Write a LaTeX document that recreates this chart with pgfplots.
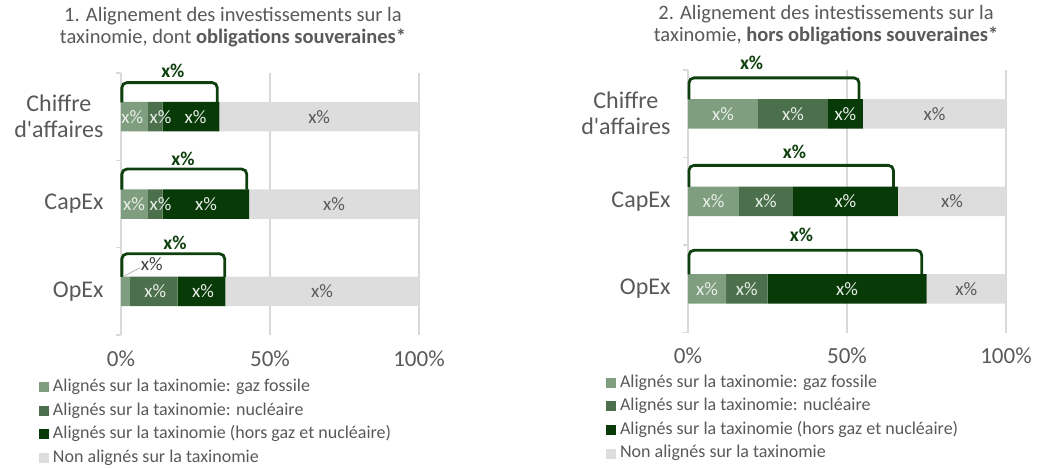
\documentclass[border=0pt]{standalone}
\usepackage{pgfplots}
\pgfplotsset{compat=1.18}
\usepackage{fontspec}
\setmainfont{Carlito}
\definecolor{gaz}{RGB}{127,158,127}
\definecolor{nuc}{RGB}{76,112,76}
\definecolor{verd}{RGB}{8,58,8}
\definecolor{nonal}{RGB}{221,221,221}
\definecolor{brk}{RGB}{14,64,14}
\definecolor{txt}{RGB}{89,89,89}
\definecolor{grd}{RGB}{217,217,217}
\definecolor{lbl}{RGB}{232,238,232}
\pgfplotsset{
  base/.style={scale only axis, xmin=0, xmax=100, ymin=0, ymax=3, clip=false},
  mainax/.style={base,
    xbar stacked, bar width=29.5bp,
    axis x line*=bottom, axis y line*=left,
    x axis line style={draw=none},
    y axis line style={draw=grd, line width=1.2bp},
    xtick={0,50,100}, xticklabels={0\%,50\%,100\%},
    xmajorgrids, grid style={draw=grd, line width=1.2bp},
    xticklabel style={font=\fontsize{23bp}{26bp}\selectfont, text=txt, yshift=-12bp},
    ytick={0.5,1.5,2.5}, yticklabels={OpEx,CapEx,{Chiffre\\d\textquotesingle affaires}},
    yticklabel style={font=\fontsize{24bp}{26bp}\selectfont, text=txt, align=center, xshift=-14bp},
    tick align=outside, major tick length=0pt,
    extra y ticks={0,1,2,3}, extra y tick labels={},
    extra y tick style={major tick length=5bp, tick style={draw=grd, line width=1.2bp}},
    legend image code/.code={\fill[##1, draw=none] (0bp,-5bp) rectangle (10bp,5bp);},
    legend cell align=left,
    legend style={at={(0,0)}, anchor=north west, xshift=-82bp, yshift=#1,
      draw=none, fill=none, inner sep=0pt, outer sep=0pt,
      font=\fontsize{18bp}{20bp}\selectfont, text=txt, row sep=5.1bp,
      nodes={inner sep=1bp, text height=12.5bp, text depth=4bp},
      /tikz/every odd column/.append style={column sep=3bp}},
  },
  lab/.style={only marks, mark=*, mark size=0.01pt, mark options={draw=none, fill=none},
    point meta=explicit symbolic, nodes near coords,
    every node near coord/.style={anchor=center, font=\fontsize{19bp}{20bp}\selectfont, text=#1}},
  blab/.style={only marks, mark=*, mark size=0.01pt, mark options={draw=none, fill=none},
    point meta=explicit symbolic, nodes near coords,
    every node near coord/.style={anchor=center, font=\fontsize{19.5bp}{20bp}\selectfont\bfseries, text=brk}},
  brack/.style={brk, line width=2.8bp, rounded corners=5bp},
}
\begin{document}
\begin{tikzpicture}
\useasboundingbox (0,0) rectangle (1047bp,-468bp);
% titles
\node[align=center, text=txt, font=\fontsize{20.5bp}{22bp}\selectfont] at (233bp,-27bp)
  {1. Alignement des investissements sur la\\taxinomie, dont \textbf{obligations souveraines*}};
\node[align=center, text=txt, font=\fontsize{20.5bp}{22bp}\selectfont] at (826bp,-25bp)
  {2. Alignement des intestissements sur la\\taxinomie, \textbf{hors obligations souveraines*}};

% ---------------- chart 1
\begin{axis}[mainax=-43bp, at={(121bp,-335bp)}, anchor=south west, width=298bp, height=262bp]
\addplot[fill=gaz, draw=none] coordinates {(3,0.5) (9,1.5) (9,2.5)};
\addlegendentry{Alignés sur la taxinomie: gaz fossile}
\addplot[fill=nuc, draw=none] coordinates {(16,0.5) (5,1.5) (5,2.5)};
\addlegendentry{Alignés sur la taxinomie: nucléaire}
\addplot[fill=verd, draw=none] coordinates {(16,0.5) (29,1.5) (19,2.5)};
\addlegendentry{Alignés sur la taxinomie (hors gaz et nucléaire)}
\addplot[fill=nonal, draw=none] coordinates {(65,0.5) (57,1.5) (67,2.5)};
\addlegendentry{Non alignés sur la taxinomie}
\end{axis}
\begin{axis}[base, hide axis, at={(121bp,-335bp)}, anchor=south west, width=298bp, height=262bp]
\addplot[brack] coordinates {(0.3,2.665) (0.3,2.89) (32.3,2.89) (32.3,2.665)};
\addplot[brack] coordinates {(0.3,1.665) (0.3,1.9) (42.2,1.9) (42.2,1.665)};
\addplot[brack] coordinates {(0.3,0.665) (0.3,0.93) (34.8,0.93) (34.8,0.665)};
\addplot[blab] coordinates {(17.4,3.02)[x\%] (20.8,2.02)[x\%] (18.1,1.06)[x\%]};
\addplot[lab=lbl] coordinates {(3.8,2.5)[x\%] (13.3,2.5)[x\%] (25,2.5)[x\%]
  (4.4,1.5)[x\%] (13.3,1.5)[x\%] (28.5,1.5)[x\%] (11.5,0.5)[x\%] (27.5,0.5)[x\%]};
\addplot[lab=txt] coordinates {(66.5,2.5)[x\%] (71.5,1.5)[x\%] (67.5,0.5)[x\%]};
\addplot[gray!60, line width=0.8bp] coordinates {(0.8,0.67) (6.4,0.77)};
\addplot[lab=black!75] coordinates {(10.3,0.81)[x\%]};
\end{axis}

% ---------------- chart 2
\begin{axis}[mainax=-41bp, at={(688bp,-332.5bp)}, anchor=south west, width=318bp, height=262.5bp]
\addplot[fill=gaz, draw=none] coordinates {(12,0.5) (16,1.5) (22,2.5)};
\addlegendentry{Alignés sur la taxinomie: gaz fossile}
\addplot[fill=nuc, draw=none] coordinates {(13,0.5) (17,1.5) (22,2.5)};
\addlegendentry{Alignés sur la taxinomie: nucléaire}
\addplot[fill=verd, draw=none] coordinates {(50,0.5) (33,1.5) (11,2.5)};
\addlegendentry{Alignés sur la taxinomie (hors gaz et nucléaire)}
\addplot[fill=nonal, draw=none] coordinates {(25,0.5) (34,1.5) (45,2.5)};
\addlegendentry{Non alignés sur la taxinomie}
\end{axis}
\begin{axis}[base, hide axis, at={(688bp,-332.5bp)}, anchor=south west, width=318bp, height=262.5bp]
\addplot[brack] coordinates {(0.3,2.665) (0.3,2.91) (53.8,2.91) (53.8,2.665)};
\addplot[brack] coordinates {(0.3,1.665) (0.3,1.91) (64.6,1.91) (64.6,1.665)};
\addplot[brack] coordinates {(0.3,0.665) (0.3,0.94) (73.5,0.94) (73.5,0.665)};
\addplot[blab] coordinates {(20,3.08)[x\%] (33.5,2.06)[x\%] (35.7,1.12)[x\%]};
\addplot[lab=lbl] coordinates {(11,2.5)[x\%] (33,2.5)[x\%] (49.5,2.5)[x\%]
  (8,1.5)[x\%] (24.5,1.5)[x\%] (49.5,1.5)[x\%] (6,0.5)[x\%] (18.5,0.5)[x\%] (50,0.5)[x\%]};
\addplot[lab=txt] coordinates {(77.5,2.5)[x\%] (83,1.5)[x\%] (87.5,0.5)[x\%]};
\end{axis}
\end{tikzpicture}
\end{document}
